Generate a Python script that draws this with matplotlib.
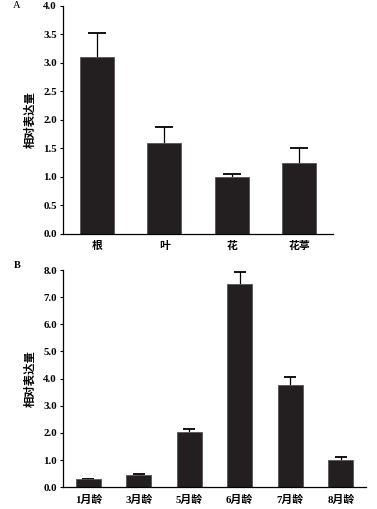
import matplotlib
matplotlib.use('Agg')
import matplotlib.pyplot as plt

plt.rcParams['font.family'] = ['Liberation Serif', 'Noto Sans CJK SC']

# panel A: tissues
tissues = ['根', '叶', '花', '花葶']
tissue_vals = [3.1, 1.6, 1.0, 1.24]
tissue_err = [0.43, 0.27, 0.05, 0.26]

# panel B: ages
ages = ['1月龄', '3月龄', '5月龄', '6月龄', '7月龄', '8月龄']
age_vals = [0.3, 0.47, 2.05, 7.5, 3.75, 1.02]
age_err = [0.01, 0.02, 0.11, 0.42, 0.3, 0.08]

bar_color = '#231f20'
ylab = '相对表达量'
cjk = ['Noto Sans CJK SC', 'DejaVu Sans']

fig = plt.figure(figsize=(3.77, 5.09), dpi=100)
axA = fig.add_axes([63/377, 1 - 234/509, 270/377, 228/509])
axB = fig.add_axes([63/377, 1 - 487.3/509, 303/377, 217.3/509])


def draw(ax, cats, vals, errs, ymax, step, fmt, capsize):
    x = list(range(len(cats)))
    ax.bar(x, vals, width=0.5, color=bar_color, edgecolor='#555555', linewidth=0.6, zorder=2)
    # caps: capsize is half the cap length; only the upper whisker is shown
    eb = ax.errorbar(x, vals, yerr=[[0]*len(errs), errs], fmt='none', ecolor='black',
                     elinewidth=0.9, capsize=capsize, capthick=1.3, zorder=1)
    eb[1][0].remove()
    ax.set_xlim(-0.5, len(cats) - 0.5)
    ax.set_ylim(0, ymax)
    ticks = [i*step for i in range(int(round(ymax/step)) + 1)]
    ax.set_yticks(ticks)
    ax.set_yticklabels([fmt.format(t) for t in ticks], fontsize=7.8, fontweight='bold')
    ax.set_xticks(x)
    ax.set_xticklabels(cats, fontsize=7.8, fontweight='bold')
    ax.tick_params(axis='x', length=0, pad=5)
    ax.tick_params(axis='y', length=2.5, width=0.8, direction='out', pad=2)
    for s in ['top', 'right']:
        ax.spines[s].set_visible(False)
    for s in ['left', 'bottom']:
        ax.spines[s].set_linewidth(0.9)
    ax.set_ylabel(ylab, family=cjk, fontsize=8.2, fontweight='bold', labelpad=5)


draw(axA, tissues, tissue_vals, tissue_err, 4.0, 0.5, '{:.1f}', 6.5)
draw(axB, ages, age_vals, age_err, 8.0, 1.0, '{:.1f}', 4.5)

fig.text(17/377, 1 - 6/509, 'A', fontsize=7.5, ha='center', va='center')
fig.text(17/377, 1 - 265/509, 'B', fontsize=7.5, ha='center', va='center', fontweight='bold')

fig.savefig('out.png', dpi=100)
